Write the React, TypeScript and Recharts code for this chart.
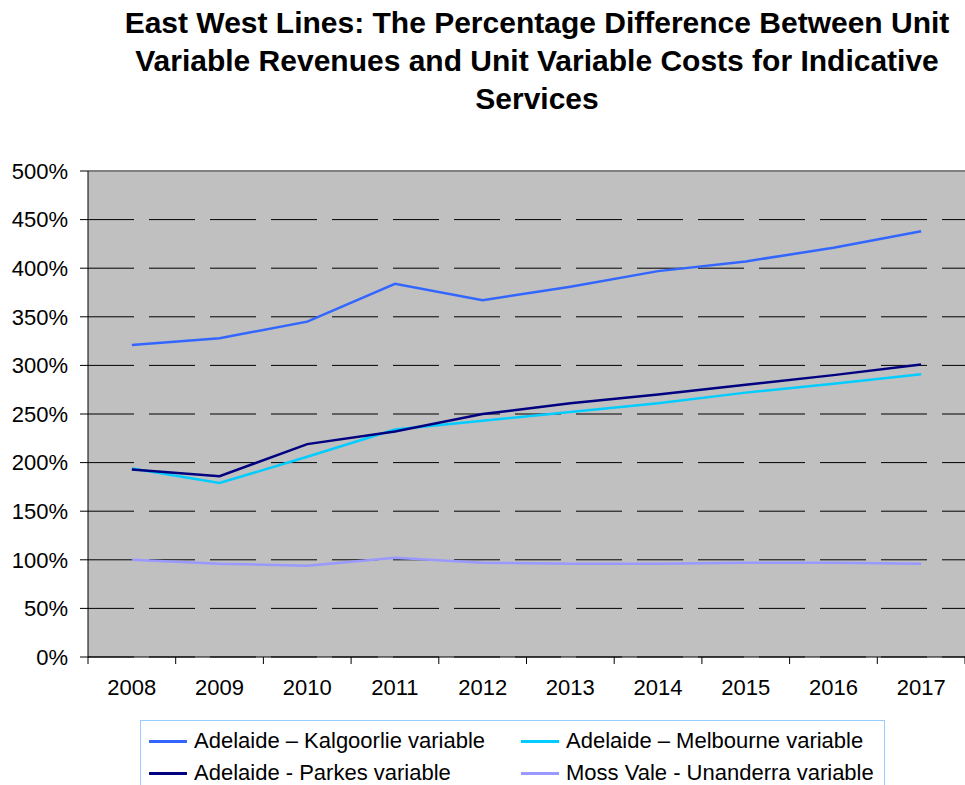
import React from 'react';
import { LineChart, Line, XAxis, YAxis, CartesianGrid, ReferenceLine } from 'recharts';

const years = ['2008', '2009', '2010', '2011', '2012', '2013', '2014', '2015', '2016', '2017'];
const kalgoorlie = [321, 328, 345, 384, 367, 381, 397, 407, 421, 438];
const melbourne = [194, 179, 206, 234, 243, 252, 261, 272, 281, 291];
const parkes = [193, 186, 219, 232, 250, 261, 270, 280, 290, 301];
const mossVale = [100, 96, 94, 102, 97, 96, 96, 97, 97, 96];
const yTicks = [0, 50, 100, 150, 200, 250, 300, 350, 400, 450, 500];

const series = [
  { key: 'kalgoorlie', name: 'Adelaide – Kalgoorlie variable', color: '#3366FF' },
  { key: 'melbourne', name: 'Adelaide – Melbourne variable', color: '#00CCFF' },
  { key: 'parkes', name: 'Adelaide - Parkes variable', color: '#000080' },
  { key: 'mossVale', name: 'Moss Vale - Unanderra variable', color: '#9999FF' },
];

const data = years.map((year, i) => ({
  year,
  kalgoorlie: kalgoorlie[i],
  melbourne: melbourne[i],
  parkes: parkes[i],
  mossVale: mossVale[i],
}));

const W = 965;
const H = 785;
const PLOT_LEFT = 88;
const PLOT_TOP = 171;
const PLOT_BOTTOM = 657;
const BAND = (W - PLOT_LEFT) / years.length;
const FONT = '"Liberation Sans", Arial, sans-serif';

const YearTick = (props: any) => {
  const { x, payload, index } = props;
  return (
    <g>
      <line x1={x - BAND / 2} x2={x - BAND / 2} y1={PLOT_BOTTOM} y2={PLOT_BOTTOM + 7} stroke="#000" />
      {index === years.length - 1 && (
        <line x1={x + BAND / 2} x2={x + BAND / 2} y1={PLOT_BOTTOM} y2={PLOT_BOTTOM + 7} stroke="#000" />
      )}
      <text x={x} y={PLOT_BOTTOM + 38} textAnchor="middle" fontSize={22} fontFamily={FONT} fill="#000">
        {payload.value}
      </text>
    </g>
  );
};

export default function App() {
  return (
    <div style={{ position: 'absolute', left: 0, top: 0, width: W, height: H, background: '#fff', overflow: 'hidden', fontFamily: FONT }}>
      <div
        style={{
          position: 'absolute',
          left: 97,
          top: 4,
          width: 880,
          textAlign: 'center',
          fontSize: 30,
          lineHeight: '38px',
          fontWeight: 'bold',
          color: '#000',
        }}
      >
        East West Lines: The Percentage Difference Between Unit
        <br />
        Variable Revenues and Unit Variable Costs for Indicative
        <br />
        Services
      </div>
      <LineChart
        width={W}
        height={H}
        data={data}
        margin={{ top: PLOT_TOP, right: 0, bottom: H - PLOT_BOTTOM - 30, left: 0 }}
      >
        <CartesianGrid
          vertical={false}
          stroke="#000"
          strokeDasharray="46 15"
          fill="#C0C0C0"
          fillOpacity={1}
        />
        <XAxis
          dataKey="year"
          scale="band"
          height={30}
          tickSize={0}
          tickMargin={0}
          tickLine={false}
          axisLine={{ stroke: '#000' }}
          tick={<YearTick />}
          interval={0}
        />
        <YAxis
          width={PLOT_LEFT}
          domain={[0, 500]}
          ticks={yTicks}
          interval={0}
          tickFormatter={(v: number) => `${v}%`}
          tickSize={8}
          tickMargin={12}
          tickLine={{ stroke: '#000' }}
          axisLine={{ stroke: '#000' }}
          tick={{ fontSize: 22, fontFamily: FONT, fill: '#000' }}
        />
        <ReferenceLine y={500} stroke="#808080" strokeWidth={2} />
        {series.map((s) => (
          <Line
            key={s.key}
            type="linear"
            dataKey={s.key}
            name={s.name}
            stroke={s.color}
            strokeWidth={2.5}
            dot={false}
            isAnimationActive={false}
          />
        ))}
      </LineChart>
      <div
        style={{
          position: 'absolute',
          left: 140,
          top: 720,
          width: 745,
          height: 80,
          border: '1px solid #99CCFF',
          boxSizing: 'border-box',
        }}
      >
        {series.map((s, i) => (
          <div
            key={s.key}
            style={{
              position: 'absolute',
              left: i % 2 === 0 ? 8 : 380,
              top: i < 2 ? 5 : 37,
              height: 30,
              display: 'flex',
              alignItems: 'center',
              fontSize: 22,
              color: '#000',
              whiteSpace: 'nowrap',
            }}
          >
            <span style={{ display: 'inline-block', width: 38, height: 3, background: s.color, marginRight: 7 }} />
            {s.name}
          </div>
        ))}
      </div>
    </div>
  );
}
